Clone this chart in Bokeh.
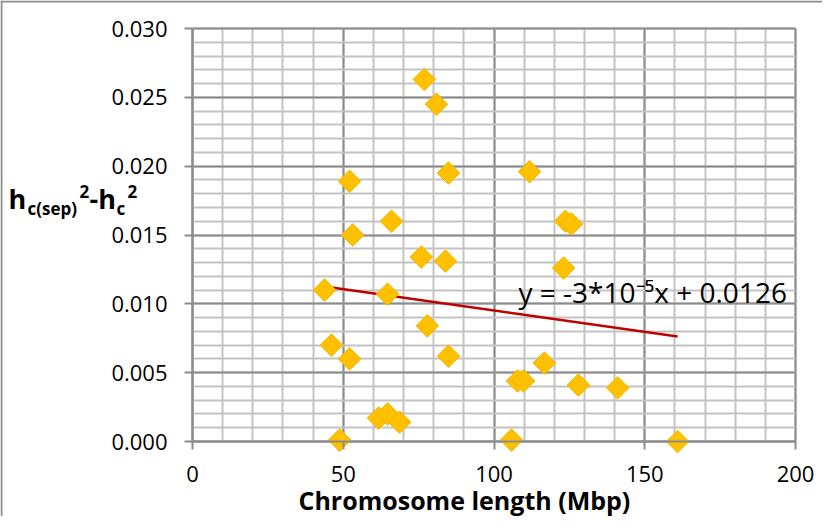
import numpy as np
from bokeh.plotting import figure
from bokeh.models import (Range1d, SingleIntervalTicker, NumeralTickFormatter, Label,
                          ColumnDataSource, Span, Grid)
from bokeh.embed import file_html
from bokeh.resources import INLINE

# ---- data ----
chrom_len = [48.8, 43.8, 46.1, 52.1, 52.1, 53.1, 61.7, 64.7, 68.7, 64.7, 66.0,
             76.9, 80.9, 75.9, 77.9, 83.9, 84.9, 84.9, 105.8, 107.8, 109.8,
             111.8, 116.7, 123.1, 123.7, 125.7, 128.0, 141.0, 160.9]
h_diff = [0.0001, 0.0110, 0.0070, 0.0060, 0.0189, 0.0150, 0.0017, 0.0020, 0.0014,
          0.0107, 0.0160, 0.0263, 0.0245, 0.0134, 0.0084, 0.0131, 0.0195, 0.0062,
          0.0001, 0.0044, 0.0044, 0.0196, 0.0057, 0.0126, 0.0160, 0.0158, 0.0041,
          0.0039, 0.0000]
trend_slope = -3.1e-5
trend_intercept = 0.01262
equation_text = "y = -3*10\u207b\u2075x + 0.0126"
x_label = "Chromosome length (Mbp)"
x_lim = (0, 200)
y_lim = (0, 0.030)

# ---- layout (canvas pixels) ----
W, H = 822, 516
PL, PR, PT, PB = 192, 795, 28, 441      # plot-area box inside the canvas
dx = (x_lim[1] - x_lim[0]) / (PR - PL)
dy = (y_lim[1] - y_lim[0]) / (PB - PT)
xr = Range1d(x_lim[0] - PL * dx, x_lim[1] + (W - PR) * dx)
yr = Range1d(y_lim[0] - (H - PB) * dy, y_lim[1] + PT * dy)

FONT = "Open Sans"
GRID_MAJOR = "#8c8c8c"
GRID_MINOR = "#c3c3c3"

p = figure(width=W, height=H, output_backend="svg", toolbar_location=None,
           x_range=xr, y_range=yr, min_border=0)
p.min_border_left = p.min_border_right = p.min_border_top = p.min_border_bottom = 0
p.background_fill_color = "white"
p.border_fill_color = "white"
p.outline_line_color = None

p.xaxis.ticker = SingleIntervalTicker(interval=50, num_minor_ticks=5)
p.yaxis.ticker = SingleIntervalTicker(interval=0.005, num_minor_ticks=5)
p.yaxis.formatter = NumeralTickFormatter(format="0.000")
p.xaxis.fixed_location = y_lim[0]
p.yaxis.fixed_location = x_lim[0]
p.xaxis.bounds = x_lim
p.yaxis.bounds = y_lim

for ax in (p.xaxis[0], p.yaxis[0]):
    ax.axis_line_color = GRID_MAJOR
    ax.axis_line_width = 2
    ax.major_tick_line_color = GRID_MAJOR
    ax.major_tick_line_width = 2
    ax.major_tick_out = 8
    ax.major_tick_in = 0
    ax.minor_tick_line_color = None
    ax.major_label_text_font = FONT
    ax.major_label_text_font_size = "22px"
    ax.major_label_text_color = "black"
p.xaxis.major_label_standoff = 16
p.yaxis.major_label_standoff = 17

has_cross = "cross_bounds" in Grid.properties()
for g, b, cb in ((p.xgrid[0], x_lim, y_lim), (p.ygrid[0], y_lim, x_lim)):
    g.grid_line_color = GRID_MAJOR
    g.grid_line_width = 2
    g.minor_grid_line_color = GRID_MINOR
    g.minor_grid_line_width = 2
    g.bounds = b
    if has_cross:
        g.cross_bounds = cb

# chart-area border (left and top edges)
p.add_layout(Span(location=1, location_units="screen", dimension="height",
                  line_color=GRID_MAJOR, line_width=2))
p.add_layout(Span(location=H - 1, location_units="screen", dimension="width",
                  line_color=GRID_MAJOR, line_width=2))

# trend line
tx = np.array([min(chrom_len), max(chrom_len)])
ty = trend_slope * tx + trend_intercept
p.line(tx, ty, line_color="#c00000", line_width=2.5)

src = ColumnDataSource(dict(x=chrom_len, y=h_diff))
p.scatter("x", "y", source=src, marker="square", angle=np.pi / 4, size=16,
          fill_color="#ffc000", line_color="#f2b600", line_width=1)

BASE_FIX = 9  # labels render a little below the requested baseline

def lab(text, px, py, size, bold=False):
    # px, py: page pixels of the text's left end / baseline
    p.add_layout(Label(x=px - 8, y=H - (py - BASE_FIX - 8), x_units="screen",
                       y_units="screen", text=text, text_font=FONT, text_font_size=size,
                       text_font_style="bold" if bold else "normal",
                       text_color="black", text_baseline="alphabetic"))

lab(equation_text, 526, 308, "28px")
lab(x_label, 306, 516, "25px", bold=True)

# y axis title:  h_c(sep)^2 - h_c^2
lab("h", 16, 215, "27px", True)
lab("c(sep)", 35, 225, "17px", True)
lab("2", 87, 208, "17px", True)
lab("-h", 97, 215, "27px", True)
lab("c", 124, 225, "17px", True)
lab("2", 135, 208, "17px", True)

open("out.html", "w").write(file_html(p, INLINE))
